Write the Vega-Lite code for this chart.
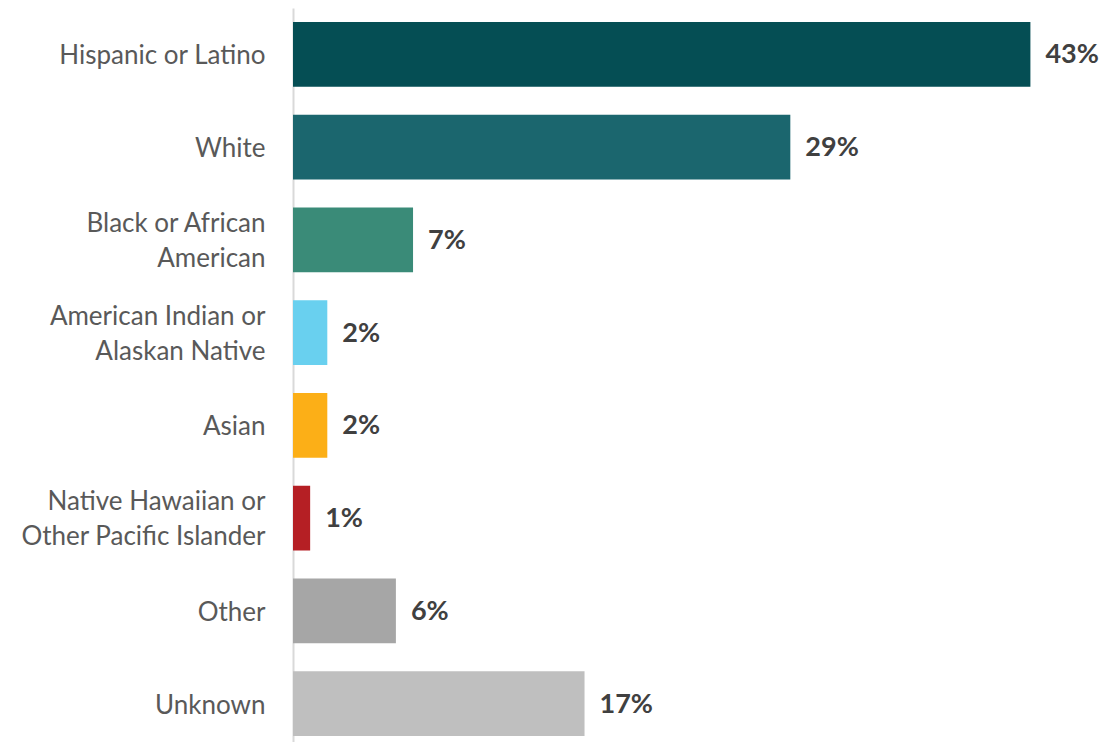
{
  "$schema": "https://vega.github.io/schema/vega-lite/v6.json",
  "width": 806,
  "height": 742,
  "autosize": {"type": "none"},
  "padding": {"left": 293, "top": 8, "right": 6, "bottom": 0},
  "background": "white",
  "config": {"view": {"stroke": null}, "font": "Lato"},
  "data": {
    "values": [
      {"group": "Hispanic or Latino", "value": 0.43},
      {"group": "White", "value": 0.29},
      {"group": "Black or African|American", "value": 0.07},
      {"group": "American Indian or|Alaskan Native", "value": 0.02},
      {"group": "Asian", "value": 0.02},
      {"group": "Native Hawaiian or |Other Pacific Islander", "value": 0.01},
      {"group": "Other", "value": 0.06},
      {"group": "Unknown", "value": 0.17}
    ]
  },
  "encoding": {
    "y": {
      "field": "group",
      "type": "nominal",
      "sort": null,
      "scale": {"paddingInner": 0.3, "paddingOuter": 0.15},
      "axis": {
        "title": null,
        "ticks": false,
        "labelExpr": "split(datum.label, '|')",
        "labelFont": "Lato",
        "labelFontSize": 26,
        "labelColor": "#595959",
        "labelPadding": 28,
        "labelLineHeight": 35,
        "labelLimit": 400,
        "domainColor": "#D9D9D9",
        "domainWidth": 2,
        "labelOffset": {"condition": {"test": "indexof(datum.value, '|') >= 0", "value": -16}, "value": 2}
      }
    },
    "x": {
      "field": "value",
      "type": "quantitative",
      "scale": {"domain": [0, 0.47]},
      "axis": null
    }
  },
  "layer": [
    {
      "mark": {"type": "bar"},
      "encoding": {
        "color": {
          "field": "group",
          "type": "nominal",
          "legend": null,
          "scale": {
            "domain": ["Hispanic or Latino", "White", "Black or African|American", "American Indian or|Alaskan Native", "Asian", "Native Hawaiian or |Other Pacific Islander", "Other", "Unknown"],
            "range": ["#054E54", "#1B666E", "#3A8B78", "#69D0EF", "#FCAF17", "#B51F24", "#A6A6A6", "#BFBFBF"]
          }
        }
      }
    },
    {
      "mark": {"type": "text", "align": "left", "baseline": "middle", "dx": 15, "dy": 1, "fontSize": 27, "fontWeight": "bold", "color": "#404040", "font": "Lato"},
      "encoding": {
        "text": {"field": "value", "type": "quantitative", "format": ".0%"}
      }
    }
  ]
}
